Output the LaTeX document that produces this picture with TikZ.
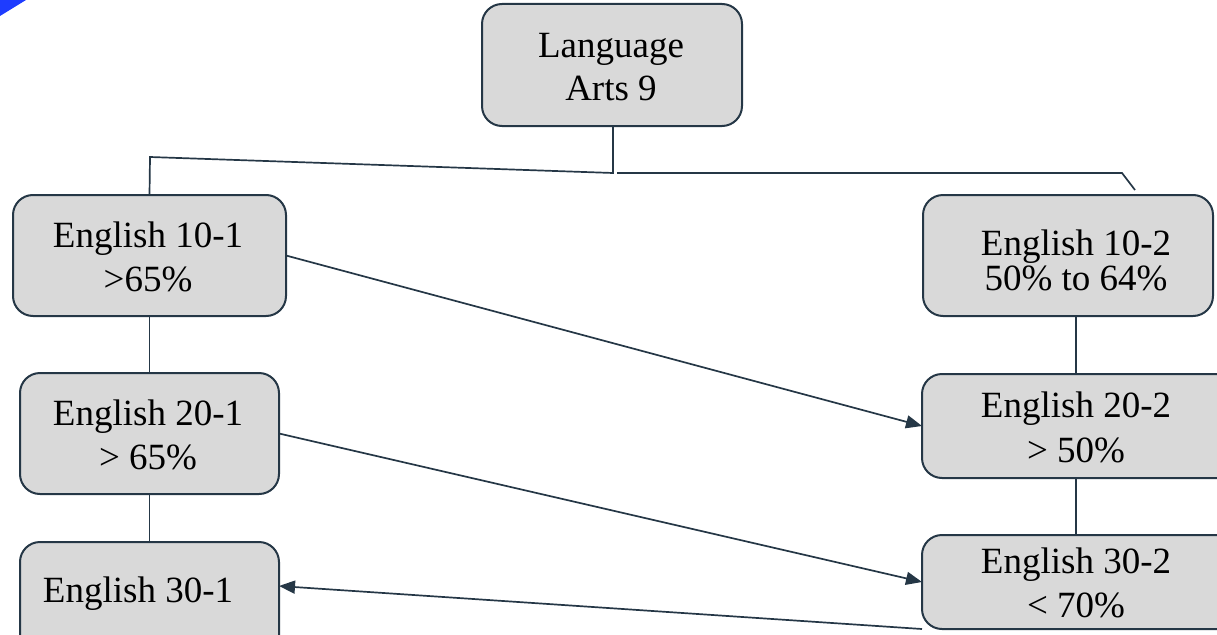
\documentclass[tikz,border=0pt]{standalone}
\usepackage{fontspec}
\setmainfont{Liberation Serif}
\usetikzlibrary{arrows.meta}
\definecolor{boxgray}{RGB}{217,217,217}
\definecolor{edge}{RGB}{37,55,70}
\definecolor{cornerblue}{RGB}{30,60,255}
\tikzset{
  box/.style={draw=edge, line width=2pt, fill=boxgray, rounded corners=20pt, inner sep=0pt, outer sep=0pt},
  lbl/.style={anchor=base, inner sep=0pt, font=\fontsize{37}{44}\selectfont},
  conn/.style={draw=edge, line width=1.7pt},
  arr/.style={conn, -{Triangle[length=16pt,width=13pt]}}
}
\begin{document}
\begin{tikzpicture}[x=1pt,y=-1pt]
\useasboundingbox (0,0) rectangle (1217,634);
\clip (0,0) rectangle (1217,634);
\fill[cornerblue] (0,0) -- (26,0) -- (0,16) -- cycle;
% boxes
\node[box, minimum width=260pt, minimum height=122pt] (la9) at (612,65) {};
\node[box, minimum width=273pt, minimum height=121pt] (e101) at (149.5,255.5) {};
\node[box, minimum width=259pt, minimum height=121pt] (e201) at (149.5,433.5) {};
\node[box, minimum width=259pt, minimum height=118pt] (e301) at (149.5,601) {};
\node[box, minimum width=290pt, minimum height=121pt] (e102) at (1068,255.5) {};
\node[box, minimum width=318pt, minimum height=104pt] (e202) at (1081,426) {};
\node[box, minimum width=318pt, minimum height=94pt] (e302) at (1081,582) {};
% labels
\node[lbl] (t1a) at (611,57) {Language};
\node[lbl] (t1b) at (611,100) {Arts 9};
\node[lbl] (t2a) at (148,247) {English 10-1};
\node[lbl] (t2b) at (148,291) {>65\%};
\node[lbl] (t3a) at (148,425) {English 20-1};
\node[lbl] (t3b) at (148,469) {> 65\%};
\node[lbl] (t4a) at (138,602) {English 30-1};
\node[lbl] (t5a) at (1076,255) {English 10-2};
\node[lbl] (t5b) at (1076,290) {50\% to 64\%};
\node[lbl] (t6a) at (1076,417) {English 20-2};
\node[lbl] (t6b) at (1076,462) {> 50\%};
\node[lbl] (t7a) at (1076,573) {English 30-2};
\node[lbl] (t7b) at (1076,617) {< 70\%};
% junction coordinates
\coordinate (jc) at (613,173);
\coordinate (jl) at (150,157);
\coordinate (jr1) at (617,173);
\coordinate (jr2) at (1122,173);
\coordinate (jr3) at (1135,190);
\coordinate (vx) at (1076,0);
\coordinate (a3) at (279,586);
% connectors
\draw[conn] (la9.south -| jc) -- (jc) -- (jl) -- (e101.north);
\draw[conn] (jr1) -- (jr2) -- (jr3);
\draw[conn] (e101.south) -- (e201.north);
\draw[conn] (e201.south) -- (e301.north);
\draw[conn] (e102.south -| vx) -- (e202.north -| vx);
\draw[conn] (e202.south -| vx) -- (e302.north -| vx);
\draw[arr] (e101.east) -- (e202.west);
\draw[arr] (e201.east) -- (e302.west);
\draw[arr] (e302.south west) -- (a3);
\end{tikzpicture}
\end{document}
